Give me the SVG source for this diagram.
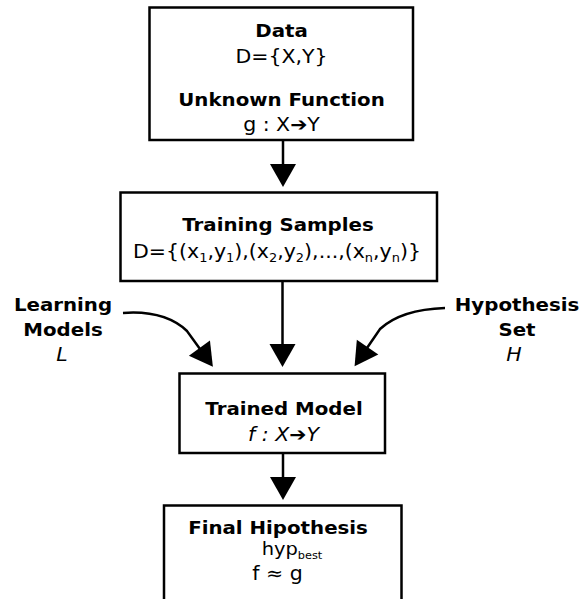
<svg xmlns="http://www.w3.org/2000/svg" width="579" height="599" viewBox="0 0 579 599">
  <style>
    .box { fill: #fff; stroke: #000; stroke-width: 2.5; }
    .t { font-family: "DejaVu Sans", "Liberation Sans", sans-serif; font-size: 19px; text-anchor: middle; fill: #000; }
    .b { font-weight: bold; font-size: 18.5px; }
    .i { font-style: italic; }
    .sub { font-size: 12px; }
    .link { fill: none; stroke: #000; stroke-width: 2.5; }
  </style>
  <defs>
    <marker id="head" markerUnits="userSpaceOnUse" markerWidth="26" markerHeight="28" viewBox="0 -14 24 28" refX="1" refY="0" orient="auto">
      <path d="M0,-13 L23,0 L0,13 z" fill="#000"/>
    </marker>
  </defs>
  <rect width="579" height="599" fill="#fff"/>

  <!-- connectors -->
  <g id="connectors">
    <path class="link" d="M283,140 V165" marker-end="url(#head)"/>
    <path class="link" d="M282.5,281 V345" marker-end="url(#head)"/>
    <path class="link" d="M283,453 V478" marker-end="url(#head)"/>
    <path class="link" d="M123,313 C150,311 172,317 187,331 L200,349" marker-end="url(#head)"/>
    <path class="link" d="M445,308 C415,309 393,317 380,329 L367,348" marker-end="url(#head)"/>
  </g>

  <!-- data / unknown function -->
  <g id="data">
    <rect class="box" x="149.5" y="7.5" width="263.5" height="132.5"/>
    <text class="t b" transform="translate(281.5,36.5) scale(1.07,1)">Data</text>
    <text class="t" transform="translate(281.5,62.5) scale(1.08,1)">D={X,Y}</text>
    <text class="t b" transform="translate(281.5,106) scale(1.07,1)">Unknown Function</text>
    <text class="t" transform="translate(281.5,131) scale(1.08,1)">g : X➔Y</text>
  </g>

  <!-- training samples -->
  <g id="training">
    <rect class="box" x="120.5" y="192.5" width="316.5" height="88.5"/>
    <text class="t b" transform="translate(278,231) scale(1.07,1)">Training Samples</text>
    <text class="t" transform="translate(277,258) scale(1.08,1)">D={(x<tspan class="sub" dy="4">1</tspan><tspan dy="-4">,y</tspan><tspan class="sub" dy="4">1</tspan><tspan dy="-4">),(x</tspan><tspan class="sub" dy="4">2</tspan><tspan dy="-4">,y</tspan><tspan class="sub" dy="4">2</tspan><tspan dy="-4">),...,(x</tspan><tspan class="sub" dy="4">n</tspan><tspan dy="-4">,y</tspan><tspan class="sub" dy="4">n</tspan><tspan dy="-4">)}</tspan></text>
  </g>

  <!-- learning models -->
  <g id="learning">
    <text class="t b" transform="translate(63,311) scale(1.07,1)">Learning</text>
    <text class="t b" transform="translate(63,336) scale(1.07,1)">Models</text>
    <text class="t i" transform="translate(62,361) scale(1.08,1)">L</text>
  </g>

  <!-- hypothesis set -->
  <g id="hypothesis">
    <text class="t b" transform="translate(517,311) scale(1.07,1)">Hypothesis</text>
    <text class="t b" transform="translate(517,336) scale(1.07,1)">Set</text>
    <text class="t i" transform="translate(514,361) scale(1.08,1)">H</text>
  </g>

  <!-- trained model -->
  <g id="trained">
    <rect class="box" x="179.5" y="373.5" width="205.5" height="79.5"/>
    <text class="t b" transform="translate(284,415) scale(1.07,1)">Trained Model</text>
    <text class="t i" transform="translate(283.5,441) scale(1.08,1)">f : X➔Y</text>
  </g>

  <!-- final hypothesis -->
  <g id="final">
    <rect class="box" x="164" y="505.5" width="237.5" height="110"/>
    <text class="t b" transform="translate(278,534) scale(1.07,1)">Final Hipothesis</text>
    <text class="t" transform="translate(292,555) scale(1.08,1)" style="font-size:18px">hyp<tspan style="font-size:10.5px" dy="4">best</tspan></text>
    <text class="t" transform="translate(277.5,580) scale(1.08,1)">f ≈ g</text>
  </g>
</svg>
